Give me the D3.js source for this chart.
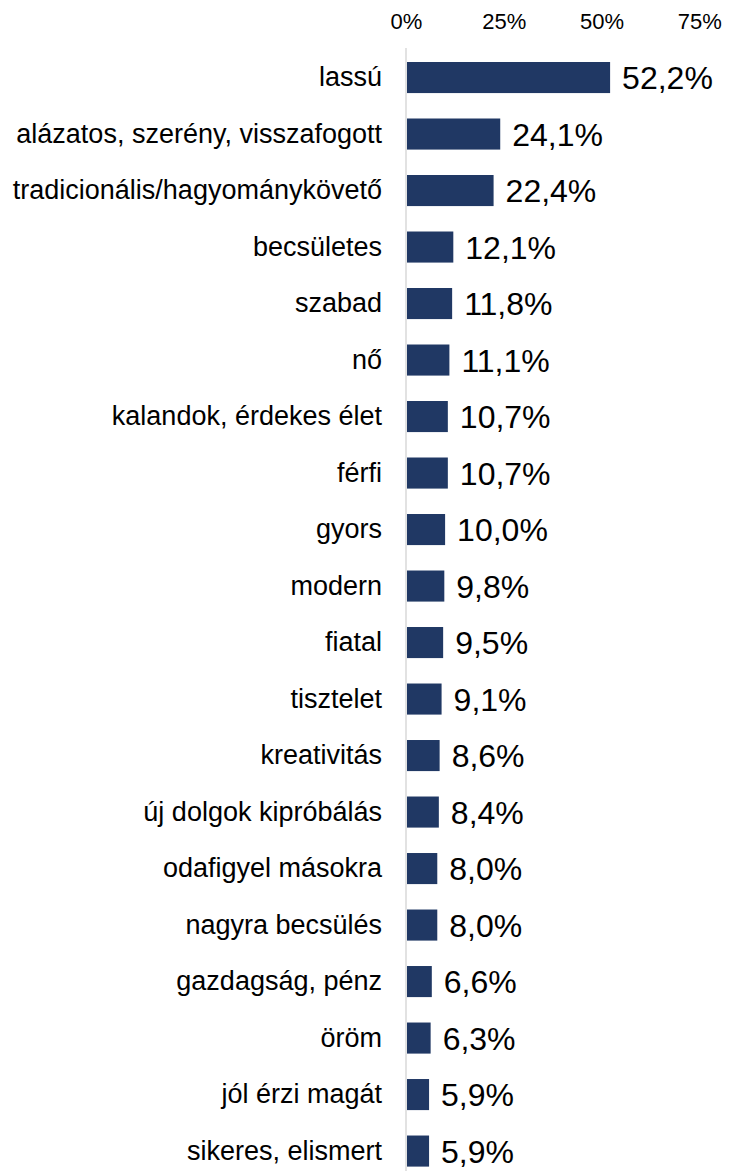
<!DOCTYPE html>
<html>
<head>
<meta charset="utf-8">
<script src="https://cdn.jsdelivr.net/npm/d3@7"></script>
<style>
  body { margin: 0; background: #fff; }
  svg { display: block; font-family: 'Liberation Sans', Arial, sans-serif; }
</style>
</head>
<body>
<svg id="chart"></svg>
<script>
// categories and values (percent)
const categories = ["lassú", "alázatos, szerény, visszafogott", "tradicionális/hagyománykövető",
  "becsületes", "szabad", "nő", "kalandok, érdekes élet", "férfi", "gyors", "modern", "fiatal",
  "tisztelet", "kreativitás", "új dolgok kipróbálás", "odafigyel másokra", "nagyra becsülés",
  "gazdagság, pénz", "öröm", "jól érzi magát", "sikeres, elismert"];
const values = [52.2, 24.1, 22.4, 12.1, 11.8, 11.1, 10.7, 10.7, 10.0, 9.8, 9.5,
  9.1, 8.6, 8.4, 8.0, 8.0, 6.6, 6.3, 5.9, 5.9];
const tickValues = [0, 25, 50, 75];

const data = categories.map((c, i) => ({ cat: c, val: values[i] }));

const W = 729, H = 1171;
const x0 = 406;
const font = "'Liberation Sans', Arial, sans-serif";

const svg = d3.select('#chart').attr('width', W).attr('height', H);

const x = d3.scaleLinear().domain([0, 100]).range([x0, x0 + 391]);
const y = d3.scaleBand().domain(categories).range([62, 1166.6])
  .paddingInner(0.45).paddingOuter(0);

// top axis tick labels
const xAxis = d3.axisTop(x).tickValues(tickValues).tickSize(0).tickFormat(d => d + '%');
const gx = svg.append('g').attr('transform', 'translate(0, 29)').call(xAxis);
gx.select('.domain').remove();
gx.selectAll('text').attr('font-size', 22).attr('fill', '#000')
  .attr('font-family', font).attr('dy', 0).attr('y', 0);

// vertical baseline
svg.append('line')
  .attr('x1', x(0)).attr('x2', x(0))
  .attr('y1', 48).attr('y2', H)
  .attr('stroke', '#d9d9d9').attr('stroke-width', 1.5);

// bars
svg.append('g').selectAll('rect').data(data).enter().append('rect')
  .attr('x', x(0) + 1)
  .attr('y', d => y(d.cat))
  .attr('width', d => x(d.val) - x(0) - 1)
  .attr('height', y.bandwidth())
  .attr('fill', '#203864');

// category labels
svg.append('g').selectAll('text').data(data).enter().append('text')
  .attr('x', 382)
  .attr('y', d => y(d.cat) + y.bandwidth() / 2)
  .attr('dy', '0.315em')
  .attr('text-anchor', 'end')
  .attr('font-size', 27)
  .attr('fill', '#000')
  .text(d => d.cat);

// value labels
const fmt = d3.format('.1f');
svg.append('g').selectAll('text').data(data).enter().append('text')
  .attr('x', d => x(d.val) + 12)
  .attr('y', d => y(d.cat) + y.bandwidth() / 2)
  .attr('dy', '0.36em')
  .attr('font-size', 32)
  .attr('fill', '#000')
  .text(d => fmt(d.val).replace('.', ',') + '%');
</script>
</body>
</html>
